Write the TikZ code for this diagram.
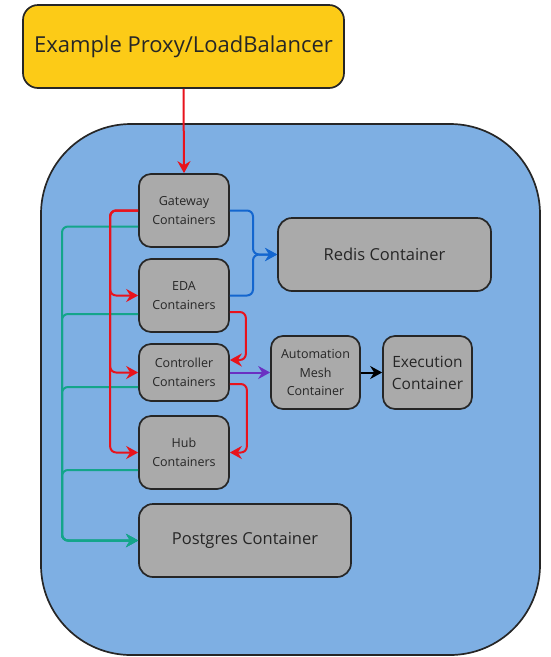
\documentclass[tikz,border=0pt]{standalone}
\usepackage{fontspec}
\setmainfont{Open Sans}
\usepackage{tikz}
\usetikzlibrary{arrows.meta}
\definecolor{lbyellow}{HTML}{FCCB17}
\definecolor{hostblue}{HTML}{7EAFE3}
\definecolor{boxgray}{HTML}{AAAAAA}
\definecolor{txtgray}{HTML}{262626}
\definecolor{redln}{HTML}{E8131C}
\definecolor{bluln}{HTML}{1366CF}
\definecolor{grnln}{HTML}{14A58A}
\definecolor{prpln}{HTML}{6A30C2}
\begin{document}
\begin{tikzpicture}[x=1pt, y=-1pt,
 ctr/.style={draw=txtgray, fill=boxgray, line width=1.7pt, rounded corners=12pt, align=center, text=txtgray, inner sep=2pt, font=\fontsize{12.5}{18.5}\selectfont},
 bigctr/.style={ctr, rounded corners=14pt, font=\fontsize{16.5}{22}\selectfont},
 con/.style={line width=2pt, rounded corners=6pt, -{Stealth[length=12pt,width=13pt,inset=4pt]}}]
\useasboundingbox (0,0) rectangle (550,657);
\node[draw=txtgray, fill=hostblue, line width=1.7pt, rounded corners=90pt, minimum width=499pt, minimum height=531pt] (host) at (290.5,389.5) {};
\node[ctr, fill=lbyellow, rounded corners=15pt, minimum width=321pt, minimum height=83pt, font=\fontsize{22}{26}\selectfont] (lb) at (183.5,46.5) {Example Proxy/LoadBalancer};
%left column
\foreach \n/\y/\h/\t in {gw/210.5/73/Gateway, eda/295.5/73/EDA, ctl/372.5/57/Controller, hub/452.5/73/Hub}{\node[ctr, minimum width=90pt, minimum height=\h pt] (\n) at (184,\y) {\t\\Containers};}
\node[bigctr, minimum width=212pt, minimum height=73pt] (pg) at (245,540.5) {Postgres Container};
\node[bigctr, minimum width=213pt, minimum height=73pt] (redis) at (384.5,254.5) {Redis Container};
\node[ctr, minimum width=89pt, minimum height=73pt] (mesh) at (315.5,372.5) {Automation\\Mesh\\Container};
\node[ctr, minimum width=89pt, minimum height=73pt, font=\fontsize{15.5}{22}\selectfont] (exe) at (427.5,372.5) {Execution\\Container};
\coordinate (gbus) at (62,540.5);
\coordinate (rbus) at (253,254.5);
%edges to postgres
\foreach \s/\d in {gw/16,eda/18.5,ctl/14.5,hub/17.5}{\draw[con, grnln] ([yshift=-\d pt]\s.west) -| (gbus) -- (pg.west);}
%edges to redis
\foreach \s in {gw,eda}{\draw[con, bluln] (\s.east) -| (rbus) -- (redis.west);}
%edges from gateway
\draw[con, redln] (lb.south) -- (gw.north);
\foreach \t in {eda,ctl,hub}{\draw[con, redln] (gw.west) -- ++(-28,0) |- (\t.west);}
%edges on the right
\draw[con, redln] ([yshift=-16.5pt]eda.east) -- ++(16,0) |- ([yshift=12.5pt]ctl.east);
\draw[con, redln] ([yshift=-11.5pt]ctl.east) -- ++(17,0) |- (hub.east);
\draw[con, prpln] (ctl.east) -- (mesh.west);
\draw[con, black] (mesh.east) -- (exe.west);
\end{tikzpicture}
\end{document}
